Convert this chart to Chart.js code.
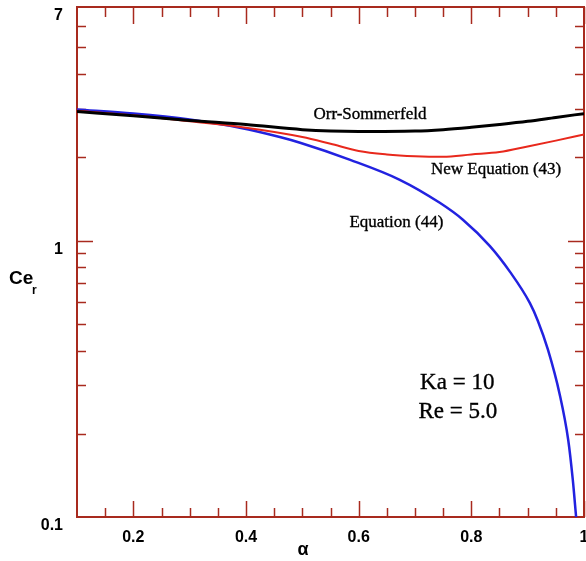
<!DOCTYPE html>
<html>
<head>
<meta charset="utf-8">
<script src="https://cdn.jsdelivr.net/npm/chart.js@4"></script>
<style>
  body { margin: 0; background: #fff; }
</style>
</head>
<body>
<canvas id="myChart" width="586" height="561"></canvas>
<script>
// Ce_r vs alpha, Ka = 10, Re = 5.0
const alphaOS = [0.1, 0.2, 0.3, 0.4, 0.5, 0.55, 0.6, 0.7, 0.75, 0.8, 0.85, 0.9, 0.95, 1.0];
const cerOS   = [2.93, 2.83, 2.72, 2.63, 2.52, 2.49, 2.48, 2.49, 2.52, 2.57, 2.63, 2.70, 2.79, 2.88];

const alphaNew = [0.1, 0.2, 0.3, 0.4, 0.5, 0.55, 0.6, 0.65, 0.7, 0.75, 0.8, 0.85, 0.9, 0.95, 1.0];
const cerNew   = [2.95, 2.84, 2.70, 2.56, 2.37, 2.24, 2.11, 2.05, 2.02, 2.01, 2.05, 2.09, 2.19, 2.30, 2.42];

const alphaEq = [0.1, 0.2, 0.3, 0.389, 0.46, 0.496, 0.585, 0.673, 0.744, 0.785, 0.833, 0.869, 0.904, 0.918, 0.936, 0.957, 0.972, 0.98, 0.986];
const cerEq   = [2.98, 2.88, 2.74, 2.56, 2.37, 2.26, 1.96, 1.66, 1.37, 1.19, 0.955, 0.769, 0.594, 0.513, 0.403, 0.277, 0.19, 0.137, 0.1];

const xTicks = [0.2, 0.4, 0.6, 0.8, 1.0];
const xMinor = [0.15, 0.25, 0.3, 0.35, 0.45, 0.5, 0.55, 0.65, 0.7, 0.75, 0.85, 0.9, 0.95];
const yTicks = [0.1, 1, 7];
const yMinor = [0.2, 0.3, 0.4, 0.5, 0.6, 0.7, 0.8, 0.9, 2, 3, 4, 5, 6];

// text labels, placed in data coordinates
const notes = [
  { text: 'Orr-Sommerfeld', x: 0.62, y: 2.86, font: '17px "Liberation Serif"' },
  { text: 'New Equation (43)', x: 0.844, y: 1.81, font: '17px "Liberation Serif"' },
  { text: 'Equation (44)', x: 0.667, y: 1.16, font: '17px "Liberation Serif"' },
  { text: 'Ka = 10', x: 0.775, y: 0.306, font: '23px "Liberation Serif"' },
  { text: 'Re = 5.0', x: 0.776, y: 0.239, font: '23px "Liberation Serif"' }
];

function toPoints(xs, ys) {
  let pts = [];
  for (let i = 0; i < xs.length; i++) {
    pts.push({ x: xs[i], y: ys[i] });
  }
  return pts;
}

const frameColor = '#a82a1e';

const decor = {
  id: 'decor',
  beforeDatasetsDraw(chart) {
    const ctx = chart.ctx;
    const a = chart.chartArea;
    const x = chart.scales.x;
    const y = chart.scales.y;

    function seg(x1, y1, x2, y2) {
      ctx.beginPath();
      ctx.moveTo(x1, y1);
      ctx.lineTo(x2, y2);
      ctx.stroke();
    }

    ctx.save();
    ctx.strokeStyle = frameColor;
    ctx.lineWidth = 1.5;
    xMinor.forEach(function (v) {
      let px = Math.round(x.getPixelForValue(v)) + 0.5;
      seg(px, a.bottom, px, a.bottom - 9);
      seg(px, a.top, px, a.top + 10);
    });
    xTicks.forEach(function (v) {
      let px = Math.round(x.getPixelForValue(v)) + 0.5;
      seg(px, a.bottom, px, a.bottom - 16);
      seg(px, a.top, px, a.top + 17);
    });
    yMinor.forEach(function (v) {
      let py = Math.round(y.getPixelForValue(v)) + 0.5;
      seg(a.left, py, a.left + 9, py);
      seg(a.right, py, a.right - 9, py);
    });
    [1].forEach(function (v) {
      let py = Math.round(y.getPixelForValue(v)) + 0.5;
      seg(a.left, py, a.left + 16, py);
      seg(a.right, py, a.right - 16, py);
    });
    ctx.lineWidth = 2;
    ctx.strokeRect(a.left, a.top, a.right - a.left, a.bottom - a.top);
    ctx.restore();
  },
  afterDraw(chart) {
    const ctx = chart.ctx;
    const x = chart.scales.x;
    const y = chart.scales.y;
    ctx.save();
    ctx.fillStyle = '#000';
    ctx.strokeStyle = '#000';
    ctx.lineWidth = 0.35;
    ctx.textAlign = 'center';
    ctx.textBaseline = 'middle';
    notes.forEach(function (n) {
      ctx.font = n.font;
      let px = x.getPixelForValue(n.x);
      let py = y.getPixelForValue(n.y);
      ctx.fillText(n.text, px, py);
      ctx.strokeText(n.text, px, py);
    });

    // axis titles
    ctx.font = 'bold 18px "Liberation Sans"';
    ctx.fillText('\u03b1', 303, 550);
    ctx.textAlign = 'left';
    ctx.font = 'bold 19px "Liberation Sans"';
    ctx.fillText('Ce', 9, 279);
    ctx.font = 'bold 12px "Liberation Sans"';
    ctx.fillText('r', 32, 291);
    ctx.restore();
  }
};

const ctx = document.getElementById('myChart');

new Chart(ctx, {
  type: 'line',
  data: {
    datasets: [
      {
        label: 'Orr-Sommerfeld',
        data: toPoints(alphaOS, cerOS),
        borderColor: '#000000',
        borderWidth: 3,
        pointRadius: 0,
        cubicInterpolationMode: 'monotone'
      },
      {
        label: 'New Equation (43)',
        data: toPoints(alphaNew, cerNew),
        borderColor: '#e8281c',
        borderWidth: 2,
        pointRadius: 0,
        cubicInterpolationMode: 'monotone'
      },
      {
        label: 'Equation (44)',
        data: toPoints(alphaEq, cerEq),
        borderColor: '#2222e0',
        borderWidth: 2.5,
        pointRadius: 0,
        cubicInterpolationMode: 'monotone'
      }
    ]
  },
  options: {
    responsive: false,
    animation: false,
    layout: { padding: { top: 7, right: 2, left: 0, bottom: 0 } },
    plugins: {
      legend: { display: false },
      tooltip: { enabled: false }
    },
    scales: {
      x: {
        type: 'linear',
        min: 0.1,
        max: 1,
        grid: { display: false, drawTicks: false },
        border: { display: false },
        afterBuildTicks: function (s) {
          s.ticks = xTicks.map(function (v) { return { value: v }; });
        },
        afterFit: function (s) {
          s.height = 44;
          s.paddingLeft = 0;
          s.paddingRight = 0;
        },
        ticks: {
          padding: 11,
          maxRotation: 0,
          color: '#000',
          font: { family: 'Liberation Sans', size: 16, weight: 'bold' },
          callback: function (v) { return v === 1 ? '1' : v.toFixed(1); }
        }
      },
      y: {
        type: 'logarithmic',
        min: 0.1,
        max: 7,
        grid: { display: false, drawTicks: false },
        border: { display: false },
        afterBuildTicks: function (s) {
          s.ticks = yTicks.map(function (v) { return { value: v }; });
        },
        afterFit: function (s) {
          s.width = 77;
          s.paddingTop = 0;
          s.paddingBottom = 0;
        },
        ticks: {
          padding: 14,
          labelOffset: 9,
          color: '#000',
          font: { family: 'Liberation Sans', size: 16, weight: 'bold' },
          callback: function (v) { return String(v); }
        }
      }
    }
  },
  plugins: [decor]
});
</script>
</body>
</html>
